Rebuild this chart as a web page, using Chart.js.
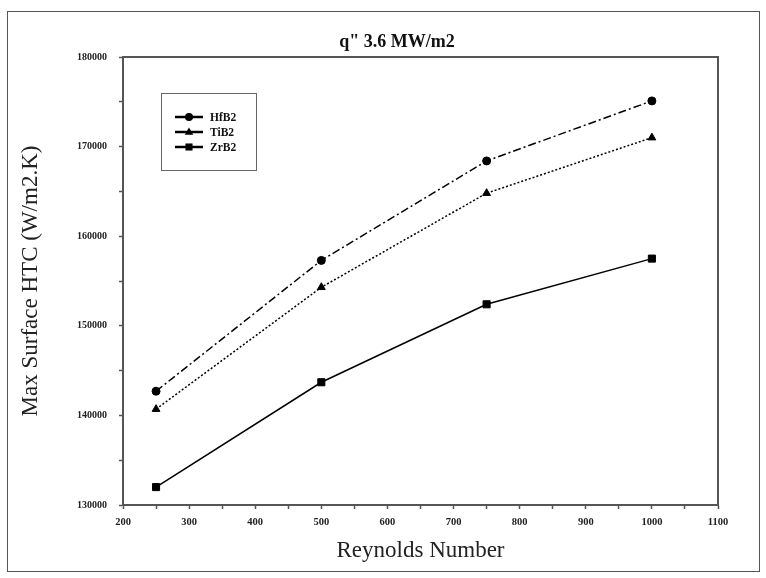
<!DOCTYPE html>
<html>
<head>
<meta charset="utf-8">
<script src="https://cdn.jsdelivr.net/npm/chart.js@4.4.1/dist/chart.umd.min.js"></script>
<style>
  html, body { margin: 0; padding: 0; background: #ffffff; }
  #wrap { width: 766px; height: 578px; position: relative; }
</style>
</head>
<body>
<div id="wrap"><canvas id="c" width="766" height="578"></canvas></div>
<script>
// ---- data ----
const reynolds = [250, 500, 750, 1000];
const hfb2 = [142700, 157300, 168400, 175100];
const tib2 = [140700, 154300, 164800, 171000];
const zrb2 = [132000, 143700, 152400, 157500];
const seriesNames = ['HfB2', 'TiB2', 'ZrB2'];
const xTickLabels = [200, 300, 400, 500, 600, 700, 800, 900, 1000, 1100];
const yTickLabels = [130000, 140000, 150000, 160000, 170000, 180000];
const chartTitle = 'q" 3.6 MW/m2';
const xTitle = 'Reynolds Number';
const yTitle = 'Max Surface HTC (W/m2.K)';

const SERIF = "'Liberation Serif', 'Times New Roman', serif";

function pts(ys) { return reynolds.map((x, i) => ({ x: x, y: ys[i] })); }

const styles = [
  { pointStyle: 'circle', radius: 4, dash: [8, 3, 2, 3] },
  { pointStyle: 'triangle', radius: 4.5, dash: [2, 2] },
  { pointStyle: 'rect', radius: 5, dash: [] }
];
const allSeries = [hfb2, tib2, zrb2];

const datasets = allSeries.map((ys, i) => ({
  label: seriesNames[i],
  data: pts(ys),
  showLine: true,
  borderColor: '#000',
  backgroundColor: '#000',
  borderWidth: 1.5,
  borderDash: styles[i].dash,
  pointStyle: styles[i].pointStyle,
  pointRadius: styles[i].radius,
  pointHoverRadius: styles[i].radius,
  pointBackgroundColor: '#000',
  pointBorderColor: '#000',
  pointBorderWidth: 1,
  tension: 0
}));

// title, frame, outer border, legend box
const decor = {
  id: 'decor',
  beforeDraw(chart) {
    const ctx = chart.ctx;
    const a = chart.chartArea;
    ctx.save();
    ctx.fillStyle = '#fff';
    ctx.fillRect(0, 0, chart.width, chart.height);
    ctx.strokeStyle = '#555';
    ctx.lineWidth = 1;
    ctx.strokeRect(7.5, 11.5, 752, 560);
    ctx.fillStyle = '#111';
    ctx.font = 'bold 18px ' + SERIF;
    ctx.textAlign = 'center';
    ctx.textBaseline = 'alphabetic';
    ctx.fillText(chartTitle, 397, a.top - 10);
    ctx.restore();
  },
  afterDatasetsDraw(chart) {
    const ctx = chart.ctx;
    const a = chart.chartArea;
    ctx.save();
    ctx.strokeStyle = '#555';
    ctx.lineWidth = 2;
    ctx.strokeRect(a.left, a.top, a.right - a.left, a.bottom - a.top);
    // legend
    const bx = a.left + 38, by = a.top + 36, bw = 95, bh = 77;
    ctx.lineWidth = 1;
    ctx.strokeStyle = '#666';
    ctx.strokeRect(bx + 0.5, by + 0.5, bw, bh);
    chart.data.datasets.forEach((ds, i) => {
      const y = by + 24 + i * 15;
      ctx.strokeStyle = '#000';
      ctx.fillStyle = '#000';
      ctx.lineWidth = 2.5;
      ctx.setLineDash([]);
      ctx.beginPath();
      ctx.moveTo(bx + 14, y);
      ctx.lineTo(bx + 42, y);
      ctx.stroke();
      const cx = bx + 28, r = styles[i].radius;
      ctx.beginPath();
      if (ds.pointStyle === 'circle') {
        ctx.arc(cx, y, r, 0, Math.PI * 2);
      } else if (ds.pointStyle === 'triangle') {
        ctx.moveTo(cx, y - r);
        ctx.lineTo(cx + r * 0.95, y + r * 0.6);
        ctx.lineTo(cx - r * 0.95, y + r * 0.6);
        ctx.closePath();
      } else {
        const s = r * Math.SQRT1_2;
        ctx.rect(cx - s, y - s, 2 * s, 2 * s);
      }
      ctx.fill();
      ctx.font = 'bold 11.5px ' + SERIF;
      ctx.textBaseline = 'middle';
      ctx.textAlign = 'left';
      ctx.fillStyle = '#111';
      ctx.fillText(ds.label, bx + 49, y + 1);
    });
    ctx.restore();
  }
};

new Chart(document.getElementById('c'), {
  type: 'scatter',
  data: { datasets: datasets },
  plugins: [decor],
  options: {
    responsive: false,
    animation: false,
    events: [],
    layout: { padding: { left: 12, right: 48, top: 57, bottom: 13 } },
    plugins: {
      legend: { display: false },
      tooltip: { enabled: false },
      title: { display: false }
    },
    scales: {
      x: {
        type: 'linear',
        min: xTickLabels[0],
        max: xTickLabels[xTickLabels.length - 1],
        afterBuildTicks(scale) {
          const t = [];
          for (let v = xTickLabels[0]; v <= xTickLabels[xTickLabels.length - 1]; v += 50) t.push({ value: v });
          scale.ticks = t;
        },
        afterFit(scale) { scale.height = 60; },
        border: { display: true, color: '#555', width: 2 },
        grid: {
          drawOnChartArea: false,
          drawTicks: true,
          tickLength: 4,
          tickColor: '#555',
          tickWidth: 1.5
        },
        ticks: {
          autoSkip: false,
          maxRotation: 0,
          padding: 7,
          color: '#222',
          font: { family: SERIF, size: 10.5, weight: 'bold' },
          callback: (v) => xTickLabels.includes(v) ? String(v) : ''
        },
        title: {
          display: true,
          text: xTitle,
          color: '#222',
          font: { family: SERIF, size: 23 },
          padding: { top: 8, bottom: 0 }
        }
      },
      y: {
        type: 'linear',
        min: yTickLabels[0],
        max: yTickLabels[yTickLabels.length - 1],
        afterBuildTicks(scale) {
          const t = [];
          for (let v = yTickLabels[0]; v <= yTickLabels[yTickLabels.length - 1]; v += 5000) t.push({ value: v });
          scale.ticks = t;
        },
        afterFit(scale) { scale.width = 111; },
        border: { display: true, color: '#555', width: 2 },
        grid: {
          drawOnChartArea: false,
          drawTicks: true,
          tickLength: 4,
          tickColor: '#555',
          tickWidth: 1.5
        },
        ticks: {
          autoSkip: false,
          padding: 12,
          color: '#222',
          font: { family: SERIF, size: 10, weight: 'bold' },
          callback: (v) => yTickLabels.includes(v) ? String(v) : ''
        },
        title: {
          display: true,
          text: yTitle,
          color: '#222',
          font: { family: SERIF, size: 23 },
          padding: { top: 5, bottom: 0 }
        }
      }
    }
  }
});
</script>
</body>
</html>
